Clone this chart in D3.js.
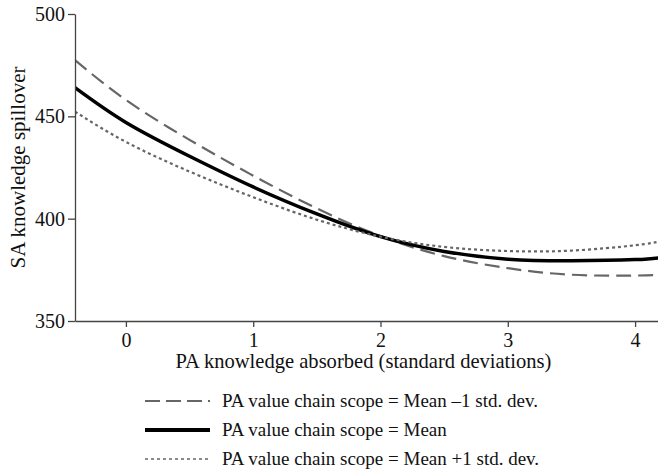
<!DOCTYPE html>
<html><head><meta charset="utf-8">
<script src="https://cdn.jsdelivr.net/npm/d3@7/dist/d3.min.js"></script>
<style>body{margin:0;background:#fff}svg{display:block}text{font-family:"Liberation Serif","Times New Roman",serif;fill:#111}</style>
</head><body><svg id="c" width="658" height="472"></svg>
<script>
const xValues = [-0.4, 0, 0.5, 1, 1.5, 2, 2.5, 3, 3.5, 4, 4.2];
const lowScope  = [477.5, 458.0, 438.5, 421.0, 405.0, 391.5, 381.7, 375.8, 372.6, 372.2, 372.7];
const meanScope = [464.0, 447.0, 430.5, 415.5, 402.3, 391.2, 384.0, 380.2, 379.4, 380.0, 381.0];
const highScope = [452.3, 437.5, 423.0, 410.5, 399.5, 391.2, 386.2, 384.2, 384.4, 387.0, 389.0];
const xTicks = [0, 1, 2, 3, 4];
const yTicks = [350, 400, 450, 500];
const seriesNames = ["PA value chain scope = Mean \u20131 std. dev.", "PA value chain scope = Mean", "PA value chain scope = Mean +1 std. dev."];

const svg = d3.select("#c");
const L = 75, R = 658, T = 14, B = 321;
const x = d3.scaleLinear().domain([-0.4, 4.18]).range([L, R]);
const y = d3.scaleLinear().domain([350, 500]).range([B, T]);

const styles = [
  {stroke:"#666", width:2.2, dash:"15,7", ldash:"15,6", lwidth:2},
  {stroke:"#000", width:3.5, dash:null, ldash:null, lwidth:4},
  {stroke:"#666", width:2.2, dash:"3,3", ldash:"3,3", lwidth:1.6}
];
const series = [lowScope, meanScope, highScope];

svg.append("clipPath").attr("id","clip").append("rect").attr("x",L).attr("y",T-5).attr("width",R-L).attr("height",B-T+5);

const line = d3.line().x(d=>x(d[0])).y(d=>y(d[1])).curve(d3.curveNatural);
const g = svg.append("g").attr("clip-path","url(#clip)");
series.forEach((s,i)=>{
  g.append("path").datum(xValues.map((v,j)=>[v,s[j]]))
   .attr("d",line).attr("fill","none").attr("stroke",styles[i].stroke)
   .attr("stroke-width",styles[i].width).attr("stroke-dasharray",styles[i].dash);
});

const xAxis = svg.append("g").attr("transform",`translate(0,${B})`)
  .call(d3.axisBottom(x).tickValues(xTicks).tickSize(6).tickPadding(6).tickSizeOuter(0).tickFormat(d3.format("d")));
const yAxis = svg.append("g").attr("transform",`translate(${L},0)`)
  .call(d3.axisLeft(y).tickValues(yTicks).tickSize(7).tickPadding(3).tickSizeOuter(0));
[xAxis,yAxis].forEach(a=>{
  a.selectAll("path,line").attr("stroke","#444").attr("stroke-width",1.3);
  a.selectAll("text").style("font-size","20px").style("font-family",'"Liberation Serif",serif').attr("fill","#111");
});

function fit(sel, w){ const n = sel.node(); const cur = n.getComputedTextLength(); const fs = parseFloat(sel.style("font-size")); sel.style("font-size", (fs*w/cur).toFixed(2)+"px"); }

const xt = svg.append("text").attr("x",(L+R)/2 - 3).attr("y",368).attr("text-anchor","middle").style("font-size","20px")
  .text("PA knowledge absorbed (standard deviations)");
fit(xt, 376);
const yt = svg.append("text").attr("transform",`translate(25,${(T+B)/2}) rotate(-90)`).attr("text-anchor","middle").style("font-size","20px")
  .text("SA knowledge spillover");
fit(yt, 202);

const textY = [407, 436, 465];
seriesNames.forEach((n,i)=>{
  svg.append("line").attr("x1",145).attr("x2",210).attr("y1",textY[i]-6).attr("y2",textY[i]-6)
    .attr("stroke",styles[i].stroke).attr("stroke-width",styles[i].lwidth).attr("stroke-dasharray",styles[i].ldash);
  svg.append("text").attr("x",222).attr("y",textY[i]).style("font-size","19px").text(n);
});
</script></body></html>
